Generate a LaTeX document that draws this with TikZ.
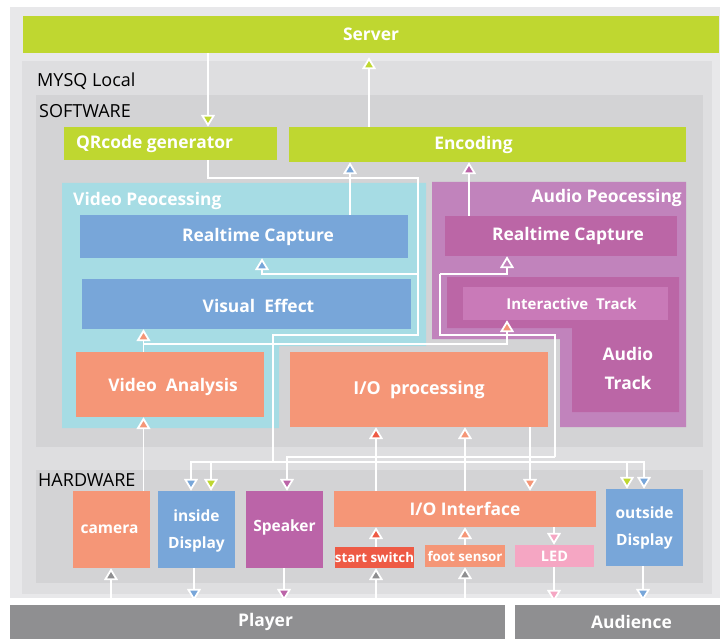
\documentclass[tikz,border=0pt]{standalone}
\usepackage{fontspec}
\setmainfont{Open Sans}
\usetikzlibrary{arrows.meta,calc}

\definecolor{bgouter}{HTML}{E8E8EA}
\definecolor{bgmysq}{HTML}{DEDEE0}
\definecolor{bgpart}{HTML}{D3D3D5}
\definecolor{cgreen}{HTML}{BFD730}
\definecolor{ccyan}{HTML}{A6DCE4}
\definecolor{cblue}{HTML}{78A6D9}
\definecolor{csalmon}{HTML}{F59677}
\definecolor{cred}{HTML}{EE5A45}
\definecolor{cpink}{HTML}{F5A6C3}
\definecolor{cpurple}{HTML}{BB64A8}
\definecolor{caudio}{HTML}{C183BC}
\definecolor{ctrack}{HTML}{BB66A6}
\definecolor{cinter}{HTML}{C97AB8}
\definecolor{cgrey}{HTML}{8F8F91}

\tikzset{
  box/.style={fill=#1, draw=none, inner sep=0pt},
  big/.style={text=white, font=\bfseries\fontsize{17.4}{20}\selectfont},
  mid/.style={text=white, font=\bfseries\fontsize{15.5}{27}\selectfont, align=center},
  small/.style={text=white, font=\bfseries\fontsize{13.3}{15}\selectfont},
  plain/.style={text=black, font=\fontsize{18}{20}\selectfont, anchor=west, inner sep=0pt},
  wire/.style={draw=white, line width=1.8pt},
  tip/.style={-{Triangle[length=12pt,width=14pt,line width=1.8pt,fill=#1]}, shorten >=0pt},
}

\begin{document}
\begin{tikzpicture}[x=1pt,y=-1pt]
\useasboundingbox (0,0) rectangle (720,639);

% nested background areas
\fill[bgouter] (10,7) rectangle (720,598);
\fill[bgmysq] (22,61) rectangle (712,594);
\fill[bgpart] (36,95) rectangle (703,447);
\fill[bgpart] (36,470) rectangle (703,583);
\node[plain] (lmysq) at (37,81) {MYSQ Local};
\node[plain] (lsoft) at (39,111) {SOFTWARE};
\node[plain] (lhard) at (38,480) {HARDWARE};

% server and audience bars
\node[box=cgreen, minimum width=696pt, minimum height=37pt] (server) at (371,34.5) {};
\node[big] at (server.center) {Server};
\node[box=cgrey, minimum width=495pt, minimum height=34pt] (player) at (257.5,622) {};
\node[big] at ([xshift=8pt]player.center) {Player};
\node[box=cgrey, minimum width=205pt, minimum height=34pt] (aud) at (617.5,622) {};
\node[big] at ([xshift=14pt]aud.center) {Audience};

% software blocks
\node[box=cgreen, minimum width=213pt, minimum height=33pt] (qr) at (170.5,143.5) {};
\node[big] at ([xshift=-16pt]qr.center) {QRcode generator};
\node[box=cgreen, minimum width=397pt, minimum height=35pt] (enc) at (487.5,144.5) {};
\node[big] at ([xshift=-14pt]enc.center) {Encoding};

% video processing area
\fill[ccyan] (62,183) -- (426,183) -- (426,346) -- (279,346) -- (279,428) -- (62,428) -- cycle;
\node[big, anchor=west, inner sep=0pt] (lvid) at (73,201) {Video Peocessing};
\node[box=cblue, minimum width=328pt, minimum height=43pt] (vrc) at (244,236.5) {};
\node[big] at ([xshift=14pt]vrc.center) {Realtime Capture};
\node[box=cblue, minimum width=329pt, minimum height=50pt] (ve) at (246.5,304) {};
\node[big] at ([xshift=12pt,yshift=-2pt]ve.center) {Visual~~Effect};
\node[box=csalmon, minimum width=188pt, minimum height=65pt] (va) at (170,384.5) {};
\node[big] at ([xshift=3pt,yshift=-2pt]va.center) {Video~~Analysis};

% audio processing area
\fill[caudio] (432,182) -- (686,182) -- (686,427) -- (560,427) -- (560,339) -- (432,339) -- cycle;
\node[big, anchor=east, inner sep=0pt] (laud) at (682,198) {Audio Peocessing};
\node[box=ctrack, minimum width=232pt, minimum height=40pt] (arc) at (561,236) {};
\node[big] at ([xshift=7pt]arc.center) {Realtime Capture};
\fill[ctrack] (447,277) -- (679,277) -- (679,412) -- (572,412) -- (572,328) -- (447,328) -- cycle;
\node[box=cinter, minimum width=205pt, minimum height=33pt] (it) at (565.5,303.5) {};
\node[small, font=\bfseries\fontsize{15}{17}\selectfont] at ([xshift=6pt]it.center) {Interactive~~Track};
\node[mid, font=\bfseries\fontsize{17.4}{29}\selectfont] (ltrack) at (628,368) {Audio\\Track};

% I/O processing
\node[box=csalmon, minimum width=258pt, minimum height=75pt] (iop) at (419,389.5) {};
\node[big, font=\bfseries\fontsize{17.8}{20}\selectfont] at (iop.center) {I/O~~processing};

% hardware blocks
\node[box=csalmon, minimum width=77pt, minimum height=77pt] (cam) at (111.5,529.5) {};
\node[mid] at ([xshift=-2pt]cam.center) {camera};
\node[box=cblue, minimum width=77pt, minimum height=77pt] (idisp) at (196.5,529.5) {};
\node[mid] at ([yshift=-1pt]idisp.center) {inside\\Display};
\node[box=cpurple, minimum width=77pt, minimum height=77pt] (spk) at (284.5,529.5) {};
\node[mid] at ([yshift=2pt]spk.center) {Speaker};
\node[box=csalmon, minimum width=262pt, minimum height=36pt] (ioi) at (465,509) {};
\node[big] at (ioi.center) {I/O Interface};
\node[box=cred, minimum width=79pt, minimum height=21pt] (ss) at (374.5,557.5) {};
\node[small] at (ss.center) {start switch};
\node[box=csalmon, minimum width=80pt, minimum height=22pt] (fs) at (465,556) {};
\node[small] at (fs.center) {foot sensor};
\node[box=cpink, minimum width=79pt, minimum height=22pt] (led) at (554.5,556) {};
\node[small, font=\bfseries\fontsize{14.5}{16}\selectfont] at (led.center) {LED};
\node[box=cblue, minimum width=77pt, minimum height=77pt] (odisp) at (644.5,527.5) {};
\node[mid] at (odisp.center) {outside\\Display};

% column positions of the connectors
\coordinate (xq) at (208,0);
\coordinate (xs) at (369,0);
\coordinate (xvrc) at (350,0);
\coordinate (xarc) at (469,0);
\coordinate (xe) at (262,0);
\coordinate (xf) at (507,0);
\coordinate (xg) at (287,0);
\coordinate (xh) at (143.5,0);
\coordinate (xa) at (191,0);
\coordinate (xb) at (211,0);
\coordinate (xc) at (627,0);
\coordinate (xd) at (644,0);
\coordinate (xio1) at (376,0);
\coordinate (xio2) at (465,0);
\coordinate (xio3) at (530,0);
\coordinate (xled) at (554,0);
\coordinate (xcam) at (111,0);
\coordinate (xid) at (194,0);
\coordinate (xsp) at (284,0);
\coordinate (xod) at (643,0);

% junctions
\coordinate (j1) at (418,178);
\coordinate (j2) at (418,335);
\coordinate (j3) at (273,335);
\coordinate (j4) at (273,462);
\coordinate (j5) at (418,274);
\coordinate (a1) at (440,335);
\coordinate (a2) at (555,335);
\coordinate (a3) at (555,457);
\coordinate (a4) at (440,274);
\coordinate (v1) at (143.5,344);

% server links
\draw[wire,tip=cgreen] (server.south -| xq) -- (qr.north -| xq);
\draw[wire,tip=cgreen,shorten >=4pt] (enc.north -| xs) -- (server.south -| xs);
\draw[wire,tip=cblue] (vrc.north -| xvrc) -- (enc.south -| xvrc);
\draw[wire,tip=cpurple] (arc.north -| xarc) -- (enc.south -| xarc);

% QR code / video network
\draw[wire] (qr.south -| xq) |- (j1) -- (j2) -- (j3) -- (j4);
\draw[wire,tip=cblue] (j5) -| (vrc.south -| xe);
\draw[wire,tip=cblue] (j4) -| (idisp.north -| xa);
\draw[wire,tip=cgreen] (j4) -| (idisp.north -| xb);
\draw[wire,tip=cgreen] (j4) -| (odisp.north -| xc);
\draw[wire,tip=cblue] (j4) -| (odisp.north -| xd);

% audio network
\draw[wire] (a3) -- (a2) -- (a1) -- (a4);
\draw[wire,tip=caudio] (a4) -| (arc.south -| xf);
\draw[wire,tip=cpurple] (a3) -| (spk.north -| xg);

% video analysis
\draw[wire,tip=csalmon] (cam.north -| xh) -- (va.south -| xh);
\draw[wire,tip=csalmon] (va.north -| xh) -- (ve.south -| xh);
\draw[wire,tip=csalmon] (v1) -| (it.south -| xf);

% I/O processing and interface
\draw[wire,tip=cred] (ioi.north -| xio1) -- (iop.south -| xio1);
\draw[wire,tip=csalmon] (ioi.north -| xio2) -- (iop.south -| xio2);
\draw[wire,tip=csalmon] (iop.south -| xio3) -- (ioi.north -| xio3);
\draw[wire,tip=cred] (ss.north -| xio1) -- (ioi.south -| xio1);
\draw[wire,tip=csalmon] (fs.north -| xio2) -- (ioi.south -| xio2);
\draw[wire,tip=cpink] (ioi.south -| xled) -- (led.north -| xled);

% player and audience
\draw[wire,tip=cgrey] (player.north -| xcam) -- (cam.south -| xcam);
\draw[wire,tip=cgrey] (player.north -| xio1) -- (ss.south -| xio1);
\draw[wire,tip=cgrey] (player.north -| xio2) -- (fs.south -| xio2);
\draw[wire,tip=cblue,shorten >=4pt] (idisp.south -| xid) -- (player.north -| xid);
\draw[wire,tip=cpurple,shorten >=4pt] (spk.south -| xsp) -- (player.north -| xsp);
\draw[wire,tip=cpink,shorten >=3pt] (led.south -| xled) -- (aud.north -| xled);
\draw[wire,tip=cblue,shorten >=4pt] (odisp.south -| xod) -- (aud.north -| xod);
\end{tikzpicture}
\end{document}
